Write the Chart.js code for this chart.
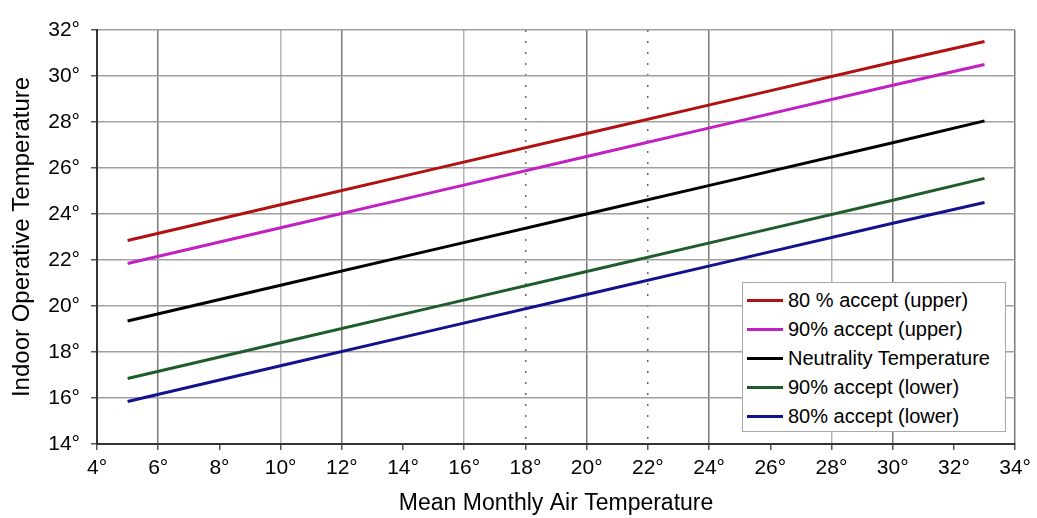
<!DOCTYPE html>
<html>
<head>
<meta charset="utf-8">
<script src="https://cdn.jsdelivr.net/npm/chart.js@4/dist/chart.umd.min.js"></script>
<style>
  html, body { margin: 0; padding: 0; background: #fff; }
  #wrap { position: relative; width: 1037px; height: 518px; }
  #legend {
    position: absolute; left: 742px; top: 282px; width: 264px; height: 150px;
    border: 1px solid #a8a8a8; background: #fff;
    font-family: "Liberation Sans", Arial, sans-serif; font-size: 20px; color: #000;
    box-sizing: border-box; padding-top: 3px;
  }
  #legend .row { display: flex; align-items: center; height: 29px; white-space: nowrap; }
  #legend .swatch { width: 36px; height: 3px; margin: 0 5px 0 4px; }
</style>
</head>
<body>
<div id="wrap">
  <canvas id="chart" width="1037" height="518"></canvas>
  <div id="legend"></div>
</div>
<script>
// mean monthly air temperature (x) where the lines were read
const airTemps = [5, 10, 15, 20, 25, 30, 33];

const upper80 = [22.85, 24.4, 25.95, 27.5, 29.05, 30.6, 31.5];
const upper90 = [21.85, 23.4, 24.95, 26.5, 28.05, 29.6, 30.5];
const neutral = [19.35, 20.9, 22.45, 24.0, 25.55, 27.1, 28.05];
const lower90 = [16.85, 18.4, 19.95, 21.5, 23.05, 24.6, 25.55];
const lower80 = [15.85, 17.4, 18.95, 20.5, 22.05, 23.6, 24.5];

const seriesNames = [
  "80 % accept (upper)",
  "90% accept (upper)",
  "Neutrality Temperature",
  "90% accept (lower)",
  "80% accept (lower)",
];
const seriesColors = ["#b01212", "#c21fc4", "#000000", "#1f5c2c", "#12128f"];

const xDark = [6, 12, 20, 24, 30, 34];
const xLight = [10, 16, 28];
const xDotted = [18, 22];

const font = "'Liberation Sans', Arial, sans-serif";

const toPoints = (vals) => vals.map((v, i) => ({ x: airTemps[i], y: v }));
const allSeries = [upper80, upper90, neutral, lower90, lower80];

const datasets = allSeries.map((vals, i) => ({
  label: seriesNames[i],
  data: toPoints(vals),
  borderColor: seriesColors[i],
  backgroundColor: seriesColors[i],
  borderWidth: 3,
  pointRadius: 0,
  tension: 0,
}));

const ctx = document.getElementById("chart").getContext("2d");
const chart = new Chart(ctx, {
  type: "line",
  data: { datasets },
  options: {
    responsive: false,
    animation: false,
    layout: { padding: { top: 30, right: 17, bottom: 0, left: 0 } },
    scales: {
      x: {
        type: "linear",
        min: 4,
        max: 34,
        afterFit: (s) => { s.height = 74; },
        ticks: {
          stepSize: 2,
          padding: 6,
          color: "#000",
          font: { family: font, size: 21 },
          callback: (v) => v + "°",
        },
        grid: {
          color: (c) => {
            const v = c.tick && c.tick.value;
            if (xDark.includes(v)) return "#7a7a7a";
            if (xLight.includes(v)) return "#b4b4b4";
            if (xDotted.includes(v)) return "#666";
            return "rgba(0,0,0,0)";
          },
          lineWidth: 1.5,
          tickLength: 6,
          tickColor: "#555",
        },
        border: {
          color: "#333",
          width: 2,
          dash: (c) => (c.tick && xDotted.includes(c.tick.value) ? [2, 9] : []),
        },
        title: {
          display: true,
          text: "Mean Monthly Air Temperature",
          color: "#000",
          font: { family: font, size: 23 },
          padding: { top: 0, bottom: 1 },
        },
      },
      y: {
        min: 14,
        max: 32,
        afterFit: (s) => { s.width = 97; },
        ticks: {
          stepSize: 2,
          padding: 11,
          color: "#000",
          font: { family: font, size: 21 },
          callback: (v) => v + "°",
        },
        grid: {
          color: "#a0a0a0",
          lineWidth: 1.5,
          tickLength: 6,
          tickColor: "#555",
        },
        border: { color: "#333", width: 2 },
        title: {
          display: true,
          text: "Indoor Operative Temperature",
          color: "#000",
          font: { family: font, size: 24 },
          padding: { top: 8, bottom: 0 },
        },
      },
    },
    plugins: {
      legend: { display: false },
      tooltip: { enabled: false },
    },
  },
});

// legend box inside the plot, built from the datasets
const legendEl = document.getElementById("legend");
chart.data.datasets.forEach((ds) => {
  const row = document.createElement("div");
  row.className = "row";
  const sw = document.createElement("span");
  sw.className = "swatch";
  sw.style.background = ds.borderColor;
  const txt = document.createElement("span");
  txt.textContent = ds.label;
  row.appendChild(sw);
  row.appendChild(txt);
  legendEl.appendChild(row);
});
</script>
</body>
</html>
